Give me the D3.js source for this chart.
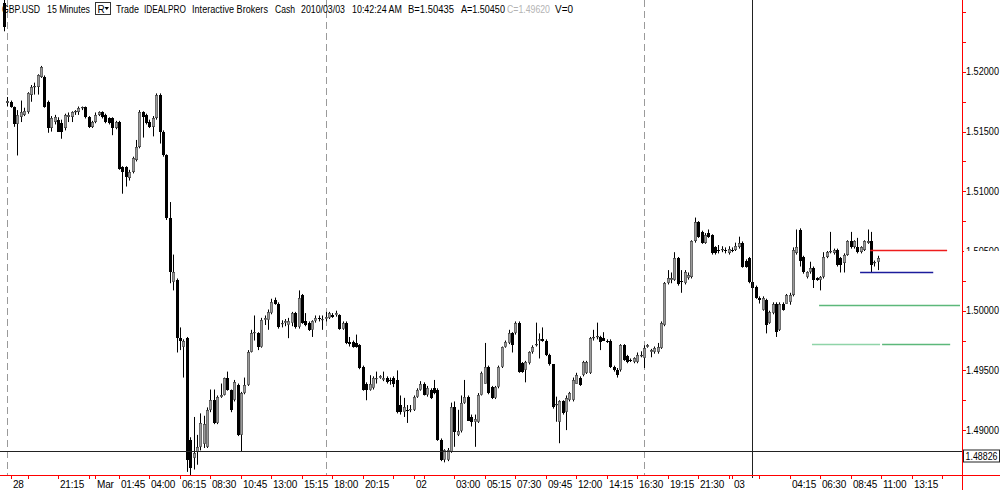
<!DOCTYPE html>
<html><head><meta charset="utf-8">
<script src="https://cdn.jsdelivr.net/npm/d3@7"></script>
<style>body{margin:0;background:#fff}svg{display:block}text{font-family:"Liberation Sans",Arial,sans-serif}</style>
</head><body><svg id="c" width="1000" height="490"></svg>
<script>
// ---- data (GBP.USD 15-minute bars) ----
const open = [
1.5258,1.5174,1.5175,1.5171,1.5156,1.5162,1.5164,1.5166,1.5181,1.5187,
1.5187,1.5196,1.5196,1.5175,1.5153,1.5158,1.5160,1.5157,1.5153,1.5162,
1.5162,1.5166,1.5166,1.5170,1.5171,1.5162,1.5154,1.5158,1.5164,1.5166,
1.5164,1.5161,1.5161,1.5153,1.5158,1.5120,1.5120,1.5111,1.5116,1.5126,
1.5137,1.5166,1.5164,1.5158,1.5154,1.5161,1.5181,1.5150,1.5130,1.5078,
1.5024,1.5026,1.4977,1.4970,1.4977,1.4892,1.4877,1.4882,1.4886,1.4888,
1.4886,1.4917,1.4925,1.4906,1.4928,1.4929,1.4944,1.4934,1.4925,1.4938,
1.4896,1.4931,1.4938,1.4965,1.4981,1.4981,1.4970,1.4992,1.4992,1.4998,
1.5009,1.5006,1.4989,1.4990,1.4988,1.4990,1.4998,1.4986,1.5013,1.4991,
1.4990,1.4984,1.4991,1.4994,1.4992,1.4993,1.4994,1.4996,1.4996,1.4996,
1.4985,1.4990,1.4974,1.4974,1.4973,1.4971,1.4953,1.4939,1.4934,1.4935,
1.4943,1.4944,1.4942,1.4944,1.4942,1.4944,1.4942,1.4921,1.4915,1.4917,
1.4917,1.4917,1.4928,1.4934,1.4939,1.4929,1.4934,1.4935,1.4934,1.4892,
1.4875,1.4875,1.4882,1.4919,1.4896,1.4899,1.4923,1.4928,1.4911,1.4907,
1.4907,1.4929,1.4939,1.4953,1.4936,1.4927,1.4936,1.4953,1.4970,1.4973,
1.4981,1.4981,1.4990,1.4956,1.4950,1.4956,1.4965,1.4971,1.4975,1.4976,
1.4975,1.4963,1.4955,1.4921,1.4907,1.4924,1.4915,1.4925,1.4925,1.4939,
1.4944,1.4946,1.4948,1.4948,1.4977,1.4978,1.4978,1.4977,1.4975,1.4975,
1.4953,1.4950,1.4950,1.4971,1.4962,1.4959,1.4957,1.4957,1.4962,1.4960,
1.4970,1.4965,1.4965,1.4965,1.4969,1.4988,1.5023,1.5026,1.5026,1.5044,
1.5025,1.5023,1.5027,1.5028,1.5058,1.5074,1.5066,1.5057,1.5065,1.5063,
1.5053,1.5051,1.5051,1.5051,1.5048,1.5051,1.5051,1.5053,1.5057,1.5042,
1.5044,1.5024,1.5020,1.5011,1.5001,1.5009,1.4990,1.4998,1.5006,1.4984,
1.5006,1.5006,1.5007,1.5013,1.5048,1.5068,1.5045,1.5028,1.5032,1.5036,
1.5027,1.5026,1.5028,1.5045,1.5049,1.5048,1.5051,1.5044,1.5040,1.5047,
1.5058,1.5053,1.5053,1.5049,1.5051,1.5057,1.5058,1.5040,1.5041];
const high = [
1.5263,1.5179,1.5176,1.5171,1.5168,1.5176,1.5170,1.5183,1.5189,1.5191,
1.5198,1.5205,1.5197,1.5176,1.5163,1.5164,1.5162,1.5160,1.5165,1.5166,
1.5167,1.5168,1.5171,1.5171,1.5171,1.5163,1.5159,1.5166,1.5167,1.5167,
1.5165,1.5162,1.5162,1.5159,1.5159,1.5121,1.5121,1.5118,1.5129,1.5143,
1.5168,1.5167,1.5165,1.5160,1.5163,1.5182,1.5182,1.5151,1.5131,1.5091,
1.5047,1.5027,1.4986,1.4976,1.4978,1.4894,1.4911,1.4896,1.4914,1.4912,
1.4919,1.4934,1.4934,1.4929,1.4939,1.4944,1.4949,1.4934,1.4942,1.4939,
1.4932,1.4944,1.4967,1.4984,1.4996,1.4982,1.4994,1.4996,1.5001,1.5010,
1.5011,1.5007,1.4992,1.4993,1.4994,1.4999,1.4999,1.5017,1.5014,1.4998,
1.4991,1.4992,1.4996,1.4996,1.4996,1.4999,1.4999,1.4998,1.5000,1.4997,
1.4991,1.4991,1.4978,1.4975,1.4980,1.4972,1.4954,1.4940,1.4946,1.4945,
1.4949,1.4946,1.4949,1.4945,1.4944,1.4945,1.4950,1.4929,1.4927,1.4921,
1.4921,1.4929,1.4935,1.4941,1.4940,1.4937,1.4935,1.4942,1.4935,1.4893,
1.4884,1.4885,1.4923,1.4924,1.4917,1.4929,1.4942,1.4929,1.4913,1.4913,
1.4931,1.4949,1.4973,1.4954,1.4937,1.4937,1.4954,1.4970,1.4975,1.4984,
1.4982,1.4991,1.4991,1.4957,1.4958,1.4966,1.4971,1.4990,1.4981,1.4986,
1.4976,1.4964,1.4955,1.4928,1.4925,1.4925,1.4929,1.4932,1.4944,1.4948,
1.4945,1.4958,1.4958,1.4978,1.4984,1.4990,1.4979,1.4982,1.4976,1.4976,
1.4954,1.4952,1.4972,1.4972,1.4963,1.4960,1.4961,1.4965,1.4966,1.4971,
1.4972,1.4968,1.4970,1.4973,1.4991,1.5024,1.5034,1.5032,1.5049,1.5045,
1.5034,1.5034,1.5032,1.5059,1.5078,1.5075,1.5067,1.5065,1.5068,1.5064,
1.5054,1.5055,1.5054,1.5053,1.5054,1.5053,1.5057,1.5062,1.5058,1.5043,
1.5045,1.5028,1.5021,1.5012,1.5012,1.5010,1.5000,1.5007,1.5007,1.5007,
1.5007,1.5014,1.5015,1.5053,1.5068,1.5069,1.5046,1.5033,1.5041,1.5037,
1.5028,1.5029,1.5049,1.5050,1.5066,1.5052,1.5052,1.5045,1.5048,1.5059,
1.5066,1.5059,1.5061,1.5054,1.5059,1.5068,1.5066,1.5042,1.5046];
const low = [
1.5234,1.5171,1.5170,1.5154,1.5130,1.5158,1.5163,1.5165,1.5175,1.5181,
1.5181,1.5195,1.5170,1.5149,1.5150,1.5156,1.5150,1.5144,1.5151,1.5158,
1.5158,1.5164,1.5164,1.5168,1.5161,1.5153,1.5153,1.5157,1.5163,1.5161,
1.5157,1.5156,1.5147,1.5152,1.5118,1.5098,1.5104,1.5109,1.5115,1.5125,
1.5136,1.5145,1.5156,1.5153,1.5146,1.5160,1.5140,1.5129,1.5076,1.5023,
1.5017,1.4965,1.4967,1.4944,1.4865,1.4862,1.4867,1.4871,1.4883,1.4885,
1.4885,1.4915,1.4905,1.4905,1.4927,1.4929,1.4933,1.4915,1.4924,1.4895,
1.4882,1.4930,1.4937,1.4965,1.4975,1.4967,1.4969,1.4988,1.4984,1.4997,
1.5005,1.4985,1.4986,1.4987,1.4977,1.4987,1.4985,1.4985,1.4989,1.4987,
1.4983,1.4978,1.4990,1.4991,1.4984,1.4991,1.4993,1.4994,1.4995,1.4984,
1.4984,1.4972,1.4970,1.4969,1.4969,1.4951,1.4933,1.4925,1.4933,1.4934,
1.4939,1.4943,1.4941,1.4939,1.4938,1.4936,1.4914,1.4913,1.4911,1.4906,
1.4915,1.4916,1.4927,1.4933,1.4929,1.4928,1.4926,1.4930,1.4891,1.4874,
1.4873,1.4874,1.4881,1.4886,1.4895,1.4898,1.4922,1.4908,1.4903,1.4886,
1.4906,1.4929,1.4939,1.4930,1.4926,1.4926,1.4935,1.4952,1.4969,1.4972,
1.4965,1.4980,1.4948,1.4948,1.4940,1.4955,1.4964,1.4970,1.4960,1.4974,
1.4962,1.4954,1.4918,1.4907,1.4889,1.4913,1.4900,1.4924,1.4924,1.4939,
1.4937,1.4945,1.4947,1.4947,1.4975,1.4976,1.4967,1.4975,1.4973,1.4952,
1.4949,1.4944,1.4949,1.4958,1.4956,1.4957,1.4956,1.4956,1.4961,1.4952,
1.4969,1.4961,1.4964,1.4964,1.4968,1.4987,1.5022,1.5023,1.5025,1.5021,
1.5015,1.5022,1.5026,1.5027,1.5057,1.5061,1.5056,1.5056,1.5061,1.5047,
1.5047,1.5048,1.5049,1.5048,1.5047,1.5049,1.5050,1.5052,1.5036,1.5036,
1.5023,1.5017,1.5010,1.5006,1.5000,1.4981,1.4989,1.4997,1.4978,1.4983,
1.5000,1.5006,1.5005,1.5012,1.5047,1.5037,1.5031,1.5027,1.5031,1.5019,
1.5025,1.5017,1.5027,1.5044,1.5048,1.5047,1.5037,1.5032,1.5032,1.5046,
1.5052,1.5052,1.5048,1.5048,1.5050,1.5056,1.5032,1.5037,1.5034];
const close = [
1.5238,1.5176,1.5171,1.5156,1.5164,1.5166,1.5167,1.5182,1.5187,1.5188,
1.5197,1.5204,1.5171,1.5153,1.5161,1.5162,1.5150,1.5150,1.5164,1.5164,
1.5166,1.5167,1.5170,1.5171,1.5162,1.5154,1.5158,1.5164,1.5166,1.5162,
1.5158,1.5157,1.5153,1.5158,1.5119,1.5116,1.5112,1.5116,1.5128,1.5137,
1.5166,1.5162,1.5157,1.5154,1.5161,1.5181,1.5150,1.5130,1.5078,1.5032,
1.5032,1.4977,1.4975,1.4975,1.4875,1.4868,1.4881,1.4886,1.4906,1.4905,
1.4917,1.4925,1.4906,1.4928,1.4929,1.4944,1.4934,1.4917,1.4940,1.4896,
1.4931,1.4938,1.4965,1.4981,1.4982,1.4970,1.4992,1.4994,1.4999,1.5007,
1.5006,1.4986,1.4990,1.4991,1.4991,1.4998,1.4986,1.5011,1.4990,1.4988,
1.4984,1.4991,1.4994,1.4993,1.4993,1.4995,1.4998,1.4995,1.4998,1.4985,
1.4990,1.4973,1.4972,1.4970,1.4970,1.4952,1.4934,1.4934,1.4939,1.4944,
1.4944,1.4945,1.4944,1.4940,1.4941,1.4939,1.4915,1.4915,1.4919,1.4916,
1.4918,1.4928,1.4934,1.4939,1.4929,1.4935,1.4927,1.4931,1.4892,1.4875,
1.4883,1.4883,1.4919,1.4898,1.4899,1.4923,1.4928,1.4908,1.4907,1.4909,
1.4929,1.4948,1.4953,1.4931,1.4927,1.4936,1.4953,1.4970,1.4974,1.4981,
1.4971,1.4990,1.4949,1.4949,1.4957,1.4965,1.4970,1.4972,1.4976,1.4975,
1.4963,1.4955,1.4919,1.4922,1.4924,1.4914,1.4927,1.4931,1.4942,1.4946,
1.4938,1.4957,1.4957,1.4977,1.4978,1.4979,1.4974,1.4975,1.4974,1.4953,
1.4950,1.4946,1.4971,1.4959,1.4957,1.4958,1.4960,1.4963,1.4963,1.4969,
1.4971,1.4967,1.4969,1.4970,1.4990,1.5023,1.5027,1.5027,1.5044,1.5022,
1.5024,1.5032,1.5030,1.5058,1.5074,1.5062,1.5057,1.5063,1.5062,1.5048,
1.5048,1.5050,1.5052,1.5050,1.5052,1.5050,1.5054,1.5057,1.5037,1.5037,
1.5024,1.5019,1.5011,1.5009,1.5011,1.4988,1.4999,1.5006,1.4982,1.5006,
1.5001,1.5013,1.5013,1.5051,1.5053,1.5042,1.5032,1.5032,1.5036,1.5026,
1.5026,1.5028,1.5045,1.5049,1.5050,1.5051,1.5038,1.5038,1.5047,1.5058,
1.5053,1.5058,1.5049,1.5053,1.5058,1.5058,1.5038,1.5041,1.5044];

// time axis: tick positions given as bar numbers, with their labels
const tickIndex  = [2,7,16,25,27,34,43,52,61,70,79,88,97,106,115,121,124,133,142,151,160,169,178,187,196,205,214,215,223,232,241,250,259,268,277];
const tickLabels = ["28","","21:15","","Mar","01:45","04:00","06:15","08:30","10:45","13:00","15:15","18:00","20:15","","02","","03:00","05:15","07:30","09:45","12:00","14:15","16:30","19:15","21:30","","03","","04:15","06:30","08:45","11:00","13:15",""];
// session separators (bar numbers)
const sessionStart = [1,95,189];
// price axis
const priceTicks  = [1.4875,1.49,1.4925,1.495,1.4975,1.50,1.5025,1.505,1.5075,1.51,1.5125,1.515,1.5175,1.52,1.5225,1.525];
const priceLabelValues = [1.49,1.495,1.50,1.505,1.51,1.515,1.52];
const priceLabels = ["1.49000","1.49500","1.50000","1.50500","1.51000","1.51500","1.52000"];
// cross-hair cursor
const cursorBar = 221, cursorPrice = 1.48826, cursorLabel = "1.48826";
// order / level lines
const levelPrice = [1.5051, 1.5032, 1.50045, 1.4972, 1.49725];
const levelFrom  = [255.8, 252.8, 240.7, 238.6, 259.3];
const levelTo    = [278.5, 274.4, 282.3, 258.7, 279.4];
const levelColor = ["#ee1c1c", "#1c1c9c", "#5cb87a", "#8fd4a8", "#5cb87a"];
// header
const header = ["GBP.USD","15 Minutes","Trade","IDEALPRO","Interactive Brokers","Cash","2010/03/03","10:42:24 AM","B=1.50435","A=1.50450","C=1.49620","V=0"];

// ---- drawing ----
const svg = d3.select("#c");
const plotR = 962, plotB = 475;
const x = d3.scaleLinear().domain([0, 277]).range([3.84, 942.04]);
const y = d3.scaleLinear().domain([1.49, 1.52]).range([430.1, 71.9]);

// squeeze a text horizontally to a given width (keeps glyph height)
function fitText(sel, tx, ty, w) {
  sel.each(function(d,k){
    const len = this.getComputedTextLength();
    const W = typeof w === "function" ? w(d,k) : w;
    const X = typeof tx === "function" ? tx(d,k) : tx;
    const Y = typeof ty === "function" ? ty(d,k) : ty;
    const s = len > 0 ? Math.min(1, W/len) : 1;
    d3.select(this).attr("x",0).attr("y",0)
      .attr("transform",`translate(${X},${Y}) scale(${s},1)`);
  });
}

svg.append("defs").append("clipPath").attr("id","plot")
  .append("rect").attr("x",0).attr("y",0).attr("width",plotR).attr("height",plotB);

// session separators
svg.append("g").selectAll("line").data(sessionStart).join("line")
  .attr("x1",d=>Math.round(x(d))+0.5).attr("x2",d=>Math.round(x(d))+0.5)
  .attr("y1",0).attr("y2",plotB)
  .attr("stroke","#9a9a9a").attr("stroke-dasharray","7,4");

// candles
const N = open.length;
const bars = d3.range(N).map(i=>({i,o:open[i],h:high[i],l:low[i],c:close[i]}));
const gC = svg.append("g").attr("clip-path","url(#plot)");
gC.selectAll("line.w").data(bars).join("line").attr("class","w")
  .attr("x1",d=>Math.round(x(d.i))+0.5).attr("x2",d=>Math.round(x(d.i))+0.5)
  .attr("y1",d=>y(Math.max(d.h,d.o,d.c))).attr("y2",d=>y(Math.min(d.l,d.o,d.c)))
  .attr("stroke","#000").attr("stroke-width",1);
const bodyTop = d=>Math.round(y(Math.max(d.o,d.c)));
const bodyH = d=>Math.max(1,Math.round(y(Math.min(d.o,d.c)))-bodyTop(d));
gC.selectAll("rect.dn").data(bars.filter(d=>d.c<d.o)).join("rect").attr("class","dn")
  .attr("x",d=>Math.round(x(d.i))-1).attr("width",3)
  .attr("y",bodyTop).attr("height",bodyH).attr("fill","#000");
gC.selectAll("rect.up").data(bars.filter(d=>d.c>=d.o)).join("rect").attr("class","up")
  .attr("x",d=>Math.round(x(d.i))-0.7).attr("width",2.4)
  .attr("y",d=>bodyTop(d)+0.3).attr("height",d=>Math.max(0.6,bodyH(d)-0.6))
  .attr("fill","#9a9a9a").attr("stroke","#3c3c3c").attr("stroke-width",0.6);

// level lines
svg.append("g").selectAll("line").data(levelPrice).join("line")
  .attr("x1",(d,k)=>x(levelFrom[k])).attr("x2",(d,k)=>x(levelTo[k]))
  .attr("y1",d=>Math.round(y(d))+0.5).attr("y2",d=>Math.round(y(d))+0.5)
  .attr("stroke",(d,k)=>levelColor[k]).attr("stroke-width",1.4);

// cross-hair
const cx = Math.round(x(cursorBar))+0.5, cy = Math.round(y(cursorPrice))+0.5;
svg.append("line").attr("x1",cx).attr("x2",cx).attr("y1",0).attr("y2",plotB+3).attr("stroke","#222");
svg.append("line").attr("x1",0).attr("x2",plotR).attr("y1",cy).attr("y2",cy).attr("stroke","#222");

// x axis
svg.append("line").attr("x1",0).attr("x2",1000).attr("y1",plotB+0.5).attr("y2",plotB+0.5).attr("stroke","#ff0000");
const gX = svg.append("g");
gX.selectAll("line").data(tickIndex).join("line")
  .attr("x1",d=>Math.round(x(d))+0.5).attr("x2",d=>Math.round(x(d))+0.5)
  .attr("y1",plotB).attr("y2",plotB+4).attr("stroke","#ff0000");
gX.selectAll("text").data(tickIndex).join("text")
  .attr("x",d=>Math.round(x(d))+2).attr("y",488)
  .attr("font-size",10).attr("letter-spacing",-0.2).attr("fill","#000")
  .text((d,k)=>tickLabels[k]);

// y axis (right)
svg.append("line").attr("x1",plotR+0.5).attr("x2",plotR+0.5).attr("y1",0).attr("y2",490).attr("stroke","#ff0000");
const gY = svg.append("g");
gY.selectAll("line").data(priceTicks).join("line")
  .attr("x1",plotR).attr("x2",plotR+4)
  .attr("y1",d=>Math.round(y(d))+0.5).attr("y2",d=>Math.round(y(d))+0.5).attr("stroke","#ff0000");
gY.selectAll("text").data(priceLabelValues).join("text")
  .attr("font-size",10).attr("fill","#000")
  .text((d,k)=>priceLabels[k])
  .call(fitText, plotR+4, d=>y(d)+3.5, 33);
// the red order line's label area masks the lower half of 1.50500
svg.append("rect").attr("x",plotR+2).attr("y",Math.round(y(1.505))).attr("width",37).attr("height",7).attr("fill","#fff");

// cursor price box
const gB = svg.append("g");
gB.append("rect").attr("x",plotR+1.5).attr("y",cy-1.5).attr("width",36).attr("height",12).attr("fill","#fff").attr("stroke","#222");
gB.append("text").attr("font-size",10).text(cursorLabel)
  .call(fitText, plotR+3.5, cy+8, 32);

// header
const hx = [2,47,116,144,192,275,301,352,408,461,507,555];
const hw = [38,43,23,42,76,20,44,50,46,44,43,18];
svg.append("g").selectAll("text").data(header).join("text")
  .attr("font-size",11).attr("fill",(d,k)=>k===10?"#b4b4b4":"#000")
  .text(d=>d)
  .call(fitText, (d,k)=>hx[k], 12.5, (d,k)=>hw[k]);
// R box
svg.append("rect").attr("x",95.5).attr("y",2.5).attr("width",15).attr("height",12).attr("fill","#fff").attr("stroke","#333");
svg.append("text").attr("x",97.5).attr("y",12.5).attr("font-size",10).text("R");
svg.append("path").attr("d","M104.5,7 L109,7 L106.75,10 Z").attr("fill","#000");
</script></body></html>
